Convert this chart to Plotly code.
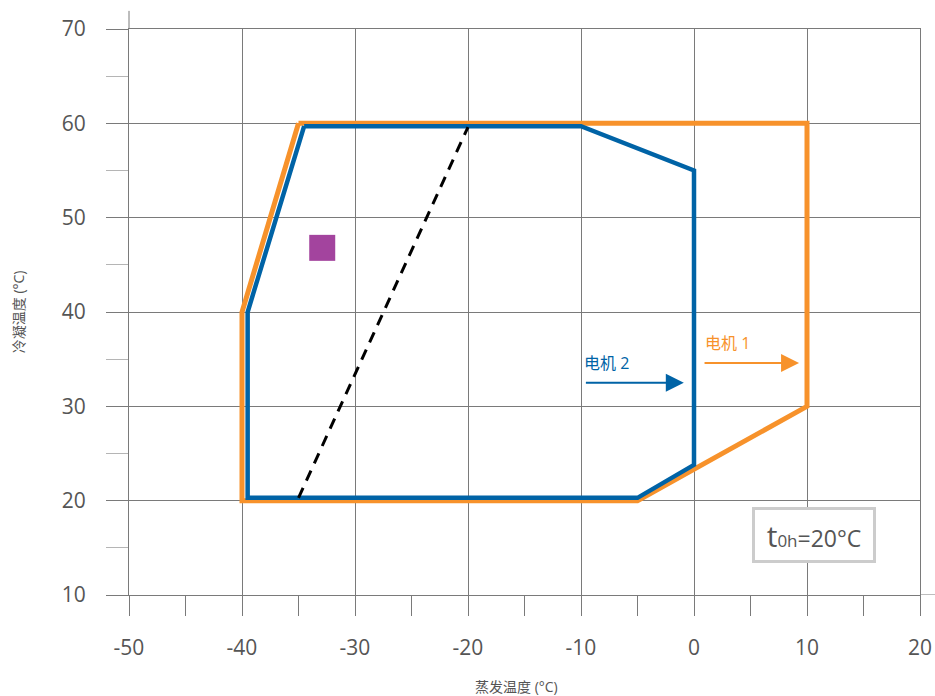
import plotly.graph_objects as go

# ---- data ----
motor1_x = [-35, 10, 10, -5, -40, -40, -35]
motor1_y = [60, 60, 30, 20, 20, 40, 60]
motor2_x = [-34.5, -10, 0, 0, -5, -39.5, -39.5, -34.5]
motor2_y = [59.7, 59.7, 55, 23.8, 20.3, 20.3, 40, 59.7]
dash_x = [-35, -20]
dash_y = [20.3, 59.6]
point_x = [-32.9]
point_y = [46.8]
x_ticks = [-50, -40, -30, -20, -10, 0, 10, 20]
x_labels = ["-50", "-40", "-30", "-20", "-10", "0", "10", "20"]
y_ticks = [10, 20, 30, 40, 50, 60, 70]
y_labels = ["10", "20", "30", "40", "50", "60", "70"]

ORANGE = "#F7922B"
BLUE = "#0063A6"
PURPLE = "#A3449E"
GRID = "#7a7a7a"
TXT = "#555555"
FONT = "Open Sans, Noto Sans CJK SC, sans-serif"

fig = go.Figure()
fig.add_trace(go.Scatter(x=motor1_x, y=motor1_y, mode="lines",
                         line=dict(color=ORANGE, width=5), hoverinfo="skip"))
fig.add_trace(go.Scatter(x=motor2_x, y=motor2_y, mode="lines",
                         line=dict(color=BLUE, width=4.5), hoverinfo="skip"))
fig.add_trace(go.Scatter(x=dash_x, y=dash_y, mode="lines",
                         line=dict(color="black", width=3, dash="11px,8px"), hoverinfo="skip"))
fig.add_trace(go.Scatter(x=point_x, y=point_y, mode="markers",
                         marker=dict(symbol="square", size=26, color=PURPLE), hoverinfo="skip"))

fig.update_layout(
    width=935, height=696,
    margin=dict(l=129, r=15, t=29, b=101, autoexpand=False),
    plot_bgcolor="white", paper_bgcolor="white",
    showlegend=False,
    font=dict(family=FONT, color=TXT),
    xaxis=dict(range=[-50, 20], tickvals=x_ticks, ticktext=x_labels, ticks="outside", ticklen=20,
               tickcolor=GRID, tickwidth=1, showgrid=True, gridcolor=GRID, gridwidth=1,
               zeroline=False, showline=True, linecolor=GRID, linewidth=1, mirror=True,
               automargin=False,
               tickfont=dict(size=21, color=TXT, family=FONT), ticklabelstandoff=14,
               minor=dict(dtick=5, tick0=-45, ticks="outside", ticklen=20, tickcolor=GRID,
                          tickwidth=1, showgrid=False)),
    yaxis=dict(range=[10, 70], tickvals=y_ticks, ticktext=y_labels, ticks="outside", ticklen=22,
               tickcolor=GRID, tickwidth=1, showgrid=True, gridcolor=GRID, gridwidth=1,
               zeroline=False, showline=True, linecolor=GRID, linewidth=1, mirror=True,
               automargin=False,
               tickfont=dict(size=21, color=TXT, family=FONT), ticklabelstandoff=16,
               minor=dict(dtick=5, tick0=15, ticks="outside", ticklen=22, tickcolor="#b5b5b5",
                          tickwidth=1, showgrid=False)),
)

# axis line extensions
fig.add_shape(type="line", xref="paper", yref="paper", x0=0, x1=0, y0=1, y1=1.032,
              line=dict(color=GRID, width=1))
fig.add_shape(type="line", xref="paper", yref="y", x0=1, x1=1.02, y0=10, y1=10,
              line=dict(color=GRID, width=1))

# axis titles
fig.add_annotation(text="蒸发温度 (°C)", xref="paper", yref="paper", x=0.49, y=-0.162,
                   xanchor="center", yanchor="middle",
                   showarrow=False, font=dict(size=14, color=TXT, family=FONT))
fig.add_annotation(text="冷凝温度 (°C)", xref="paper", yref="paper", x=-0.14, y=0.5,
                   xanchor="center", yanchor="middle",
                   textangle=-90, showarrow=False, font=dict(size=14, color=TXT, family=FONT))

# motor labels and arrows
fig.add_annotation(text="电机 2", x=-9.9, y=34.6, xanchor="left", showarrow=False,
                   font=dict(size=16, color=BLUE, family=FONT))
fig.add_annotation(text="", x=-0.9, y=32.5, ax=-9.7, ay=32.5, axref="x", ayref="y",
                   showarrow=True, arrowhead=2, arrowsize=1.8, arrowwidth=2, arrowcolor=BLUE)
fig.add_annotation(text="电机 1", x=0.8, y=36.7, xanchor="left", showarrow=False,
                   font=dict(size=16, color=ORANGE, family=FONT))
fig.add_annotation(text="", x=9.3, y=34.6, ax=0.8, ay=34.6, axref="x", ayref="y",
                   showarrow=True, arrowhead=2, arrowsize=1.8, arrowwidth=2, arrowcolor=ORANGE)

# condition box
fig.add_annotation(text="<span style='font-size:30px'>t</span><span style='font-size:17px'>0h</span>=20°C",
                   x=10.58, y=16.35, showarrow=False, bgcolor="white",
                   bordercolor="#cccccc", borderwidth=3, borderpad=2, width=114, height=46,
                   font=dict(size=23, color=TXT, family=FONT))

fig.write_html(
    "out.html",
    config={"displayModeBar": False},
    post_script=(
        "document.body.style.margin='0';"
        "document.body.style.overflow='hidden';"
        "document.documentElement.style.overflow='hidden';"
    ),
)
